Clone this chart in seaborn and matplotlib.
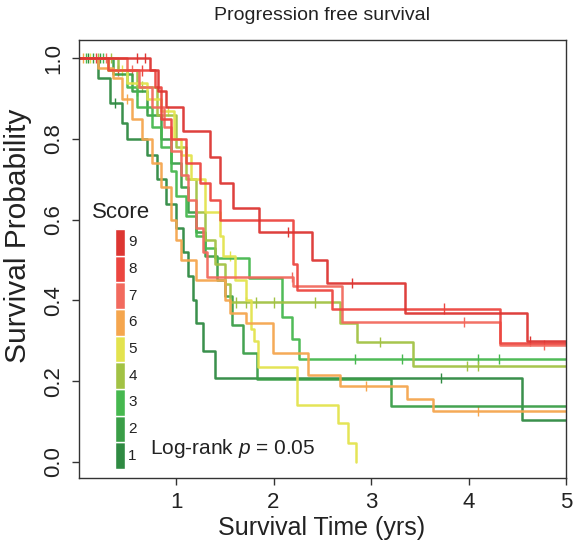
import matplotlib

matplotlib.use("Agg")

import matplotlib.pyplot as plt
import numpy as np
import pandas as pd
import seaborn as sns

# Kaplan-Meier step points (time in years, survival after the step) per score
score_1_time = [0, 0.2, 0.32, 0.45, 0.5, 0.7, 0.8, 0.9, 1.0, 1.07, 1.12, 1.17, 1.21, 1.28, 1.40, 4.55]
score_1_surv = [1, 0.95, 0.89, 0.84, 0.80, 0.76, 0.70, 0.64, 0.58, 0.52, 0.46, 0.40, 0.345, 0.275, 0.207, 0.104]
score_1_cens = [0.1, 0.37, 3.72]

score_2_time = [0, 0.35, 0.55, 0.7, 0.85, 0.95, 1.05, 1.12, 1.2, 1.3, 1.42, 1.5, 1.57, 1.69, 1.83, 3.2]
score_2_surv = [1, 0.96, 0.92, 0.86, 0.80, 0.74, 0.68, 0.62, 0.57, 0.51, 0.45, 0.41, 0.34, 0.27, 0.205, 0.139]
score_2_cens = [0.15, 0.22, 0.6]

score_3_time = [0, 0.3, 0.5, 0.6, 0.75, 0.85, 0.95, 1.0, 1.1, 1.2, 1.3, 1.4, 1.75, 2.09, 2.19, 2.26]
score_3_surv = [1, 0.97, 0.93, 0.88, 0.83, 0.78, 0.72, 0.66, 0.61, 0.56, 0.53, 0.505, 0.455, 0.36, 0.305, 0.255]
score_3_cens = [0.08, 0.25, 0.7, 2.84, 3.32, 4.1, 4.31]

score_4_time = [0, 0.4, 0.6, 0.8, 1.0, 1.1, 1.2, 1.3, 1.4, 1.5, 1.55, 2.68, 2.86, 3.43]
score_4_surv = [1, 0.97, 0.93, 0.86, 0.78, 0.70, 0.62, 0.55, 0.49, 0.44, 0.395, 0.345, 0.297, 0.238]
score_4_cens = [0.2, 0.33, 0.65, 1.62, 1.72, 1.82, 2.0, 2.43, 3.09, 3.98, 4.1]

score_5_time = [0, 0.3, 0.5, 0.7, 0.85, 0.98, 1.05, 1.15, 1.3, 1.45, 1.48, 1.6, 1.72, 1.77, 1.8, 1.84, 2.24, 2.66, 2.76, 2.85]
score_5_surv = [1, 0.97, 0.94, 0.90, 0.87, 0.80, 0.76, 0.70, 0.62, 0.56, 0.51, 0.45, 0.40, 0.33, 0.30, 0.235, 0.14, 0.097, 0.047, 0.0]
score_5_cens = [0.12, 0.45, 0.92, 1.55]

score_6_time = [0, 0.2, 0.35, 0.45, 0.55, 0.65, 0.75, 0.85, 0.95, 1.0, 1.05, 1.2, 1.5, 1.55, 1.72, 1.99, 2.35, 2.68, 3.37, 3.64]
score_6_surv = [1, 0.975, 0.95, 0.90, 0.85, 0.80, 0.74, 0.68, 0.60, 0.55, 0.50, 0.45, 0.40, 0.37, 0.343, 0.27, 0.215, 0.188, 0.156, 0.126]
score_6_cens = [0.05, 0.5, 2.95, 4.1]

score_7_time = [0, 0.5, 0.62, 0.75, 0.88, 0.95, 1.05, 1.12, 1.2, 1.28, 1.32, 2.2, 2.7, 4.32]
score_7_surv = [1, 0.97, 0.93, 0.88, 0.83, 0.77, 0.71, 0.65, 0.58, 0.52, 0.458, 0.435, 0.347, 0.29]
score_7_cens = [0.28, 0.55, 2.19, 3.95, 4.77]

score_8_time = [0, 0.3, 0.78, 0.85, 0.95, 1.1, 1.25, 1.35, 1.45, 2.2, 2.24, 2.6, 4.32]
score_8_surv = [1, 0.97, 0.93, 0.85, 0.80, 0.74, 0.69, 0.65, 0.60, 0.49, 0.425, 0.38, 0.295]
score_8_cens = [0.18, 0.4, 0.65, 3.75]

score_9_time = [0, 0.73, 0.82, 0.9, 1.07, 1.35, 1.45, 1.58, 1.85, 2.39, 2.55, 3.35, 4.6]
score_9_surv = [1, 0.97, 0.92, 0.88, 0.82, 0.755, 0.69, 0.63, 0.57, 0.50, 0.443, 0.369, 0.30]
score_9_cens = [0.6, 0.68, 2.15, 2.8, 4.63]

follow_up_end = [5, 5, 5, 5, 2.85, 5, 5, 5, 5]
scores = [1, 2, 3, 4, 5, 6, 7, 8, 9]
score_colors = ["#2f8a42", "#3a9e47", "#46b84f", "#a2c244", "#e3e34e",
                "#f5a64e", "#f26a5e", "#ec4640", "#dd3632"]

curve_times = [score_1_time, score_2_time, score_3_time, score_4_time, score_5_time,
               score_6_time, score_7_time, score_8_time, score_9_time]
curve_survs = [score_1_surv, score_2_surv, score_3_surv, score_4_surv, score_5_surv,
               score_6_surv, score_7_surv, score_8_surv, score_9_surv]
curve_cens = [score_1_cens, score_2_cens, score_3_cens, score_4_cens, score_5_cens,
              score_6_cens, score_7_cens, score_8_cens, score_9_cens]

step_rows = []
cens_rows = []
for score, times, survs, cens, end in zip(scores, curve_times, curve_survs, curve_cens, follow_up_end):
    for t, s in zip(times + [end], survs + [survs[-1]]):
        step_rows.append({"time": t, "surv": s, "score": score})
    for t in cens:
        idx = np.searchsorted(times, t, side="right") - 1
        cens_rows.append({"time": t, "surv": survs[idx], "score": score})
steps = pd.DataFrame(step_rows)
censored = pd.DataFrame(cens_rows)
palette = dict(zip(scores, score_colors))

sns.set_theme(style="ticks")
plt.rcParams["font.family"] = ["Liberation Sans", "DejaVu Sans"]
plt.rcParams["mathtext.fontset"] = "custom"
plt.rcParams["mathtext.rm"] = "Liberation Sans"
plt.rcParams["mathtext.it"] = "Liberation Sans:italic"

figure = plt.figure(figsize=(5.76, 5.46), dpi=100)
axis = figure.add_axes([0.1363, 0.1245, 0.8464, 0.802])

sns.lineplot(data=steps, x="time", y="surv", hue="score", palette=palette, estimator=None,
             sort=False, drawstyle="steps-post", linewidth=1.8, alpha=0.95, legend=False, ax=axis)
sns.scatterplot(data=censored, x="time", y="surv", hue="score", palette=palette, marker="|",
                s=55, linewidth=1.0, legend=False, ax=axis)

axis.set_xlim(0, 5)
axis.set_ylim(-0.04, 1.045)
axis.set_xticks([1, 2, 3, 4, 5])
axis.set_yticks([0, 0.2, 0.4, 0.6, 0.8, 1.0], labels=["0.0", "0.2", "0.4", "0.6", "0.8", "1.0"])
plt.setp(axis.get_yticklabels(), rotation=90, va="center")
axis.tick_params(direction="out", length=5, width=1, color="#333333", labelsize=16,
                 labelcolor="#222222", pad=5)
for spine in axis.spines.values():
    spine.set_color("#333333")
    spine.set_linewidth(1)
axis.set(xlabel="", ylabel="")

figure.text(0.559, 0.972, "Progression free survival", ha="center", va="center", fontsize=14, color="#222222")
figure.text(0.559, 0.033, "Survival Time (yrs)", ha="center", va="center", fontsize=18, color="#222222")
figure.text(0.032, 0.568, "Survival Probability", ha="center", va="center", rotation=90,
            fontsize=21.5, color="#222222")

# score colour key
key = axis.inset_axes([0.075, 0.0205, 0.02, 0.548])
key.bar(0, height=1, bottom=np.array(scores) - 1, color=score_colors, width=1)
key.set_xlim(-0.5, 0.5)
key.set_ylim(0, len(scores))
key.axis("off")
for score in scores:
    key.text(0.85, score - 0.5, str(score), ha="left", va="center", fontsize=11, color="#222222")
axis.text(0.028, 0.607, "Score", transform=axis.transAxes, ha="left", va="center", fontsize=16, color="#222222")
axis.text(0.147, 0.068, "Log-rank $p$ = 0.05", transform=axis.transAxes, ha="left", va="center",
          fontsize=15, color="#222222")

figure.savefig("out.png", dpi=100)
